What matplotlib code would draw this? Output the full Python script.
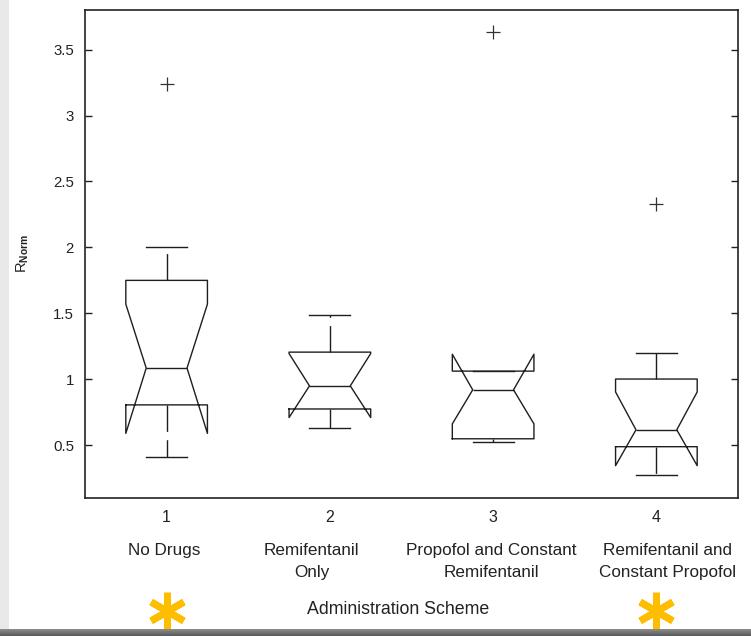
import matplotlib
matplotlib.use('Agg')
import matplotlib.pyplot as plt
import matplotlib.transforms as mtransforms
import numpy as np

plt.rcParams['font.family'] = ['Liberation Sans', 'DejaVu Sans']
plt.rcParams['mathtext.fontset'] = 'custom'
plt.rcParams['mathtext.rm'] = 'Liberation Sans'
plt.rcParams['mathtext.bf'] = 'Liberation Sans:bold'
plt.rcParams['lines.scale_dashes'] = False

# per-group summary statistics (R_Norm)
positions = [1, 2, 3, 4]
medians = [1.085, 0.95, 0.92, 0.617]
q1 = [0.806, 0.775, 0.549, 0.489]
q3 = [1.75, 1.206, 1.062, 1.002]
whisker_lo = [0.413, 0.632, 0.525, 0.277]
whisker_hi = [2.0, 1.49, 1.065, 1.198]
notch_lo = [0.59, 0.71, 0.662, 0.345]
notch_hi = [1.57, 1.195, 1.19, 0.904]
outliers = [[3.236], [], [3.636], [2.33]]

group_names = ['No Drugs', 'Remifentanil\nOnly',
               'Propofol and Constant\nRemifentanil',
               'Remifentanil and\nConstant Propofol']
label_x = [0.984, 1.89, 2.987, 4.07]
significant = [1, 4]

stats = []
for i in range(len(positions)):
    stats.append(dict(med=medians[i], q1=q1[i], q3=q3[i],
                      whislo=whisker_lo[i], whishi=whisker_hi[i],
                      cilo=notch_lo[i], cihi=notch_hi[i],
                      fliers=outliers[i]))

fig = plt.figure(figsize=(7.51, 6.36), dpi=100)
ax = fig.add_axes([85 / 751, 1 - 498 / 636, (738 - 85) / 751, (498 - 10) / 636])

line_col = '#1e1e1e'
ax.bxp(stats, positions=positions, widths=0.5, shownotches=True,
       boxprops=dict(color=line_col, linewidth=1.0),
       medianprops=dict(color=line_col, linewidth=1.0),
       whiskerprops=dict(color=line_col, linewidth=1.0, linestyle=(0, (19, 6))),
       capprops=dict(color=line_col, linewidth=1.0),
       flierprops=dict(marker='+', markersize=10, markeredgecolor='#333333',
                       markeredgewidth=0.9, linestyle='none'))

ax.set_xlim(0.5, 4.5)
ax.set_ylim(0.1, 3.8)
ax.set_yticks([0.5, 1, 1.5, 2, 2.5, 3, 3.5])
ax.set_yticklabels(['0.5', '1', '1.5', '2', '2.5', '3', '3.5'])
ax.set_xticks(positions)
ax.set_xticklabels(['1', '2', '3', '4'])
ax.tick_params(axis='y', direction='in', length=5, width=1, color='#222222',
               labelsize=10.8, labelcolor='#222222', right=True, pad=8)
ax.tick_params(axis='x', length=0, labelsize=11.5, labelcolor='#222222', pad=9)
for s in ax.spines.values():
    s.set_color('#222222')
    s.set_linewidth(1.2)

ax.set_ylabel(r'R$_{\mathbf{Norm}}$', fontsize=10.5, color='#222222', labelpad=16)

trans = mtransforms.blended_transform_factory(ax.transData, fig.transFigure)
for x, name in zip(label_x, group_names):
    ax.text(x, 1 - 543 / 636, name, transform=trans, ha='center', va='top',
            fontsize=12.3, color='#222222', linespacing=1.6)

fig.text(398 / 751, 1 - 610 / 636, 'Administration Scheme', ha='center',
         va='center', fontsize=12.8, color='#222222')

# markers for the significantly different groups
ax.plot(significant, [1 - 611 / 636] * len(significant), transform=trans,
        marker=(6, 2, 0), markersize=27, markeredgewidth=5, color='#ffbd00',
        clip_on=False, linestyle='none')

# screenshot frame: light strip on the left, dark shadow along the bottom
fig.patches.append(plt.Rectangle((0, 0), 9 / 751, 1, transform=fig.transFigure,
                                 facecolor='#e9e9e9', edgecolor='none', zorder=-1))
shade = fig.add_axes([0, 0, 1, 7 / 636])
shade.imshow(np.linspace(0.55, 0.35, 20)[:, None] * np.ones((1, 50)),
             cmap='gray', vmin=0, vmax=1, aspect='auto', extent=[0, 1, 0, 1])
shade.axis('off')

fig.savefig('out.png', dpi=100)
